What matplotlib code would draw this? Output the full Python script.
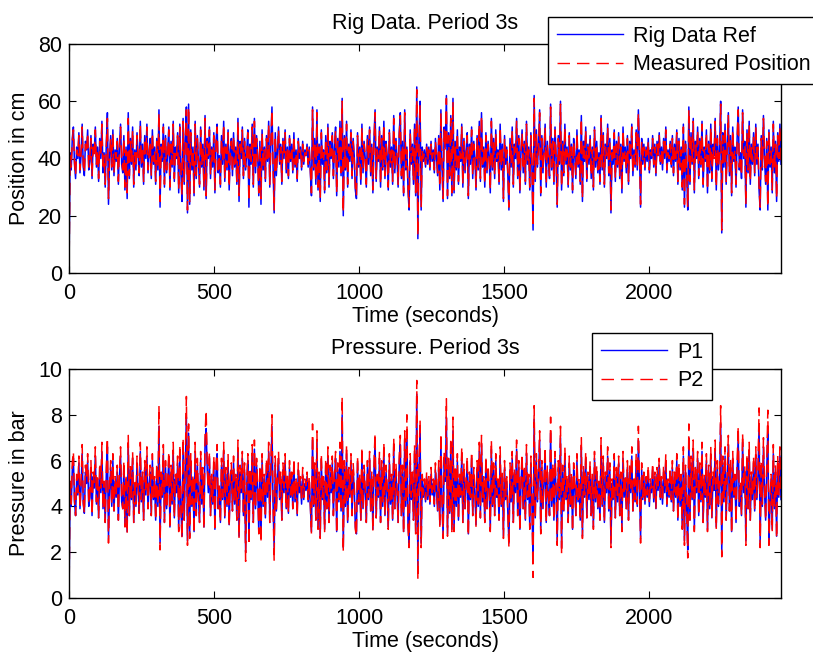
import numpy as np
import matplotlib
matplotlib.use("Agg")
import matplotlib.pyplot as plt

# values, one row ~94 s (25 samples)
t_end = 2454

rig_ref = [
    0, 42, 36, 47, 51, 38, 33, 44, 40, 49, 35, 41, 52, 37, 34, 46, 43, 50, 36, 39, 48, 33, 45, 42, 51,
    37, 44, 32, 47, 40, 53, 35, 42, 30, 45, 56, 24, 41, 48, 36, 50, 34, 43, 39, 47, 31, 45, 52, 38, 35,
    48, 29, 44, 26, 56, 33, 47, 38, 51, 30, 43, 36, 49, 41, 34, 53, 37, 45, 31, 48, 40, 52, 35, 42, 47,
    33, 50, 38, 44, 31, 47, 36, 57, 23, 45, 39, 52, 30, 48, 35, 43, 51, 29, 46, 37, 53, 32, 44, 40, 49,
    28, 52, 35, 25, 54, 31, 47, 58, 21, 59, 24, 50, 36, 44, 27, 53, 33, 48, 39, 30, 51, 37, 45, 29, 55,
    26, 47, 40, 51, 33, 44, 37, 49, 28, 46, 52, 35, 41, 30, 48, 38, 53, 32, 45, 36, 50, 29, 43, 47, 34,
    49, 37, 44, 31, 54, 25, 46, 40, 51, 33, 47, 36, 42, 50, 23, 45, 38, 52, 30, 54, 35, 48, 41, 27, 46,
    24, 50, 36, 44, 32, 48, 39, 53, 30, 46, 58, 37, 21, 49, 34, 43, 51, 38, 45, 31, 47, 40, 50, 35, 44,
    33, 48, 39, 45, 35, 49, 37, 43, 32, 47, 40, 44, 36, 46, 38, 43, 41, 45, 37, 44, 35, 27, 58, 36, 47,
    31, 57, 29, 45, 25, 50, 38, 43, 28, 48, 35, 52, 30, 46, 40, 49, 33, 44, 51, 27, 47, 37, 53, 34, 61,
    20, 48, 36, 53, 30, 45, 39, 50, 33, 47, 41, 29, 26, 49, 37, 44, 31, 52, 35, 46, 40, 30, 48, 38, 51,
    34, 45, 28, 47, 57, 32, 44, 39, 51, 30, 48, 36, 53, 33, 46, 41, 29, 50, 37, 44, 31, 55, 35, 47, 40,
    30, 49, 56, 33, 46, 27, 57, 36, 44, 29, 22, 50, 38, 45, 31, 52, 27, 65, 12, 47, 60, 22, 44, 39, 43,
    37, 45, 38, 44, 36, 46, 39, 43, 35, 47, 40, 34, 48, 29, 57, 37, 25, 51, 44, 62, 26, 49, 33, 55, 27,
    61, 28, 46, 36, 50, 31, 44, 39, 52, 30, 47, 35, 43, 49, 26, 45, 38, 51, 33, 46, 40, 29, 48, 36, 53,
    32, 56, 37, 44, 30, 49, 35, 46, 41, 28, 54, 36, 47, 33, 50, 39, 43, 31, 52, 36, 45, 25, 48, 38, 44,
    34, 22, 47, 37, 51, 30, 45, 40, 54, 33, 48, 28, 43, 50, 35, 46, 31, 53, 38, 44, 29, 49, 36, 15, 62,
    32, 50, 37, 45, 57, 27, 48, 35, 43, 52, 30, 46, 39, 33, 59, 36, 47, 31, 51, 40, 23, 48, 38, 60, 29,
    46, 34, 52, 38, 44, 30, 49, 36, 45, 28, 47, 41, 33, 50, 37, 43, 31, 55, 25, 46, 39, 51, 32, 45, 38,
    48, 33, 44, 29, 51, 37, 46, 35, 42, 31, 55, 36, 49, 30, 45, 40, 52, 34, 47, 21, 43, 38, 50, 32, 46,
    37, 49, 33, 45, 28, 51, 39, 44, 35, 48, 31, 46, 40, 52, 34, 43, 37, 50, 36, 57, 42, 23, 47, 38, 45,
    36, 44, 39, 47, 35, 43, 40, 48, 37, 45, 34, 46, 41, 49, 38, 44, 36, 47, 40, 51, 35, 43, 39, 46, 37,
    48, 34, 45, 39, 50, 31, 47, 36, 44, 29, 52, 23, 46, 35, 22, 58, 31, 49, 38, 54, 28, 46, 40, 51, 33,
    47, 37, 53, 30, 44, 39, 50, 28, 46, 35, 52, 32, 45, 41, 54, 29, 48, 36, 43, 60, 14, 49, 37, 52, 31,
    45, 56, 34, 48, 27, 51, 39, 44, 30, 47, 58, 36, 42, 33, 57, 40, 46, 23, 50, 35, 53, 31, 45, 38, 49,
    34, 52, 38, 45, 29, 22, 48, 36, 55, 40, 31, 47, 22, 50, 37, 44, 28, 53, 35, 46, 25, 49, 39, 52, 38,
]

measured = [
    0, 41, 37, 46, 50, 39, 34, 43, 41, 48, 36, 42, 51, 38, 35, 45, 42, 49, 37, 40, 47, 34, 44, 41, 50,
    38, 43, 33, 46, 41, 52, 36, 41, 31, 44, 54, 26, 40, 47, 37, 49, 35, 42, 40, 46, 32, 44, 51, 39, 36,
    47, 30, 43, 28, 54, 34, 46, 39, 50, 31, 42, 37, 48, 40, 35, 52, 38, 44, 32, 47, 41, 51, 36, 41, 46,
    34, 49, 39, 43, 32, 46, 37, 56, 25, 44, 40, 51, 31, 47, 36, 42, 50, 30, 45, 38, 52, 33, 43, 41, 48,
    29, 51, 36, 27, 53, 32, 46, 57, 22, 58, 25, 49, 37, 43, 28, 52, 34, 47, 40, 31, 50, 38, 44, 30, 54,
    27, 46, 41, 50, 34, 43, 38, 48, 29, 45, 51, 36, 40, 31, 47, 39, 52, 33, 44, 37, 49, 30, 42, 46, 35,
    48, 38, 43, 32, 53, 27, 45, 41, 50, 34, 46, 37, 41, 49, 25, 44, 39, 51, 31, 53, 36, 47, 40, 28, 45,
    26, 49, 37, 43, 33, 47, 40, 52, 31, 45, 57, 38, 22, 48, 35, 42, 50, 39, 44, 32, 46, 41, 49, 36, 43,
    34, 47, 40, 44, 36, 48, 38, 42, 33, 46, 41, 43, 37, 45, 39, 42, 40, 44, 38, 43, 36, 28, 57, 37, 46,
    32, 56, 30, 44, 26, 49, 39, 42, 29, 47, 36, 51, 31, 45, 41, 48, 34, 43, 50, 28, 46, 38, 52, 35, 60,
    21, 47, 37, 52, 31, 44, 40, 49, 34, 46, 40, 30, 27, 48, 38, 43, 32, 51, 36, 45, 41, 31, 47, 39, 50,
    35, 44, 29, 46, 56, 33, 43, 40, 50, 31, 47, 37, 52, 34, 45, 40, 30, 49, 38, 43, 32, 54, 36, 46, 41,
    31, 48, 55, 34, 45, 28, 56, 37, 43, 30, 23, 49, 39, 44, 32, 51, 28, 64, 13, 46, 59, 23, 43, 40, 42,
    38, 44, 39, 43, 37, 45, 40, 42, 36, 46, 41, 35, 47, 30, 56, 38, 26, 50, 43, 61, 27, 48, 34, 54, 28,
    60, 29, 45, 37, 49, 32, 43, 40, 51, 31, 46, 36, 42, 48, 27, 44, 39, 50, 34, 45, 41, 30, 47, 37, 52,
    33, 55, 38, 43, 31, 48, 36, 45, 40, 29, 53, 37, 46, 34, 49, 40, 42, 32, 51, 37, 44, 26, 47, 39, 43,
    35, 23, 46, 38, 50, 31, 44, 41, 53, 34, 47, 29, 42, 49, 36, 45, 32, 52, 39, 43, 30, 48, 37, 16, 61,
    33, 49, 38, 44, 56, 28, 47, 36, 42, 51, 31, 45, 40, 34, 58, 37, 46, 32, 50, 41, 24, 47, 39, 59, 30,
    45, 35, 51, 39, 43, 31, 48, 37, 44, 29, 46, 40, 34, 49, 38, 42, 32, 54, 26, 45, 40, 50, 33, 44, 39,
    47, 34, 43, 30, 50, 38, 45, 36, 41, 32, 54, 37, 48, 31, 44, 41, 51, 35, 46, 22, 42, 39, 49, 33, 45,
    38, 48, 34, 44, 29, 50, 40, 43, 36, 47, 32, 45, 41, 51, 35, 42, 38, 49, 37, 56, 41, 24, 46, 39, 44,
    37, 43, 40, 46, 36, 42, 41, 47, 38, 44, 35, 45, 40, 48, 39, 43, 37, 46, 41, 50, 36, 42, 40, 45, 38,
    47, 35, 44, 40, 49, 32, 46, 37, 43, 30, 51, 24, 45, 36, 23, 57, 32, 48, 39, 53, 29, 45, 41, 50, 34,
    46, 38, 52, 31, 43, 40, 49, 29, 45, 36, 51, 33, 44, 40, 53, 30, 47, 37, 42, 59, 15, 48, 38, 51, 32,
    44, 55, 35, 47, 28, 50, 40, 43, 31, 46, 57, 37, 41, 34, 56, 41, 45, 24, 49, 36, 52, 32, 44, 39, 48,
    35, 51, 39, 44, 30, 23, 47, 37, 54, 41, 32, 46, 23, 49, 38, 43, 29, 52, 36, 45, 26, 48, 40, 51, 39,
]

p1 = [
    0.0, 4.9, 4.0, 5.6, 6.1, 4.2, 3.6, 5.2, 4.5, 5.9, 3.9, 4.8, 6.3, 4.1, 3.7, 5.5, 5.0, 6.0, 4.0, 4.4, 5.7, 3.6, 5.3, 4.8, 6.2,
    4.1, 5.2, 3.5, 5.6, 4.6, 6.4, 3.9, 4.9, 3.3, 5.4, 6.6, 2.6, 4.7, 5.7, 4.0, 6.0, 3.8, 5.1, 4.4, 5.5, 3.4, 5.3, 6.2, 4.2, 3.9,
    5.7, 3.2, 5.2, 2.9, 6.7, 3.6, 5.6, 4.3, 6.1, 3.3, 5.0, 4.0, 5.9, 4.7, 3.7, 6.4, 4.2, 5.3, 3.4, 5.7, 4.5, 6.2, 3.9, 4.9, 5.5,
    3.6, 6.0, 4.3, 5.1, 3.4, 5.6, 4.0, 7.5, 2.4, 5.3, 4.4, 6.3, 3.3, 5.7, 3.9, 5.0, 6.1, 3.1, 5.5, 4.1, 6.4, 3.5, 5.2, 4.6, 5.9,
    3.0, 6.3, 3.9, 2.7, 6.6, 3.4, 5.6, 7.9, 2.5, 7.2, 2.7, 6.0, 4.0, 5.2, 2.9, 6.4, 3.6, 5.8, 4.4, 3.3, 6.1, 4.1, 5.4, 3.1, 6.7,
    7.4, 5.6, 4.6, 6.1, 3.6, 5.2, 4.1, 5.9, 3.0, 5.5, 6.3, 3.9, 4.8, 3.3, 5.8, 4.3, 6.4, 3.5, 5.4, 4.0, 6.0, 3.2, 5.1, 5.6, 3.8,
    5.9, 4.1, 5.2, 3.4, 6.5, 2.7, 5.5, 4.6, 6.1, 3.6, 5.6, 2.0, 4.9, 6.0, 2.5, 5.4, 4.3, 6.3, 3.3, 6.5, 3.9, 5.8, 4.7, 2.9, 5.5,
    2.6, 6.0, 4.0, 5.2, 3.5, 5.8, 4.4, 6.4, 3.3, 5.5, 7.5, 4.1, 2.2, 5.9, 3.8, 5.1, 6.1, 4.3, 5.3, 3.4, 5.6, 4.6, 6.0, 3.9, 5.2,
    3.7, 5.7, 4.4, 5.3, 3.9, 5.8, 4.2, 5.0, 3.6, 5.6, 4.6, 5.1, 4.1, 5.4, 4.3, 5.0, 4.7, 5.3, 4.2, 5.1, 4.0, 2.9, 6.9, 4.0, 5.6,
    3.4, 6.8, 3.1, 5.3, 2.7, 6.0, 4.3, 5.1, 3.0, 5.8, 3.9, 6.2, 3.3, 5.5, 4.6, 5.9, 3.6, 5.2, 6.1, 2.9, 5.6, 4.2, 6.4, 3.8, 8.0,
    2.2, 5.7, 4.0, 6.3, 3.3, 5.4, 4.4, 6.0, 3.6, 5.6, 4.8, 3.1, 2.8, 5.9, 4.1, 5.2, 3.4, 6.2, 3.9, 5.5, 4.6, 3.3, 5.7, 4.3, 6.1,
    3.8, 5.3, 3.0, 5.6, 6.8, 3.5, 5.2, 4.4, 6.1, 3.3, 5.7, 4.0, 6.4, 3.6, 5.5, 4.7, 3.1, 6.0, 4.1, 5.2, 3.4, 6.6, 3.9, 5.6, 4.6,
    3.3, 5.9, 6.7, 3.6, 5.5, 2.9, 6.9, 4.0, 7.3, 3.2, 2.4, 6.0, 4.3, 5.3, 3.4, 6.3, 2.9, 8.9, 1.4, 5.6, 7.2, 2.4, 5.2, 4.4, 5.0,
    4.2, 5.3, 4.3, 5.1, 4.1, 5.4, 4.5, 5.0, 4.0, 5.6, 4.6, 3.8, 5.7, 3.2, 6.8, 4.2, 2.7, 6.1, 5.1, 7.9, 2.8, 5.8, 3.7, 6.6, 3.0,
    7.3, 3.0, 5.5, 4.0, 6.0, 3.4, 5.2, 4.4, 6.2, 3.3, 5.6, 3.9, 5.0, 5.9, 2.8, 5.3, 4.3, 6.1, 3.6, 5.4, 4.6, 3.2, 5.7, 4.0, 6.4,
    3.5, 6.7, 4.2, 5.1, 3.3, 5.9, 3.9, 5.5, 4.7, 3.0, 6.5, 4.0, 5.6, 3.6, 6.0, 4.4, 5.0, 3.4, 6.2, 4.0, 5.3, 2.7, 5.7, 4.3, 5.1,
    3.8, 2.4, 5.6, 4.2, 6.1, 3.3, 5.4, 4.6, 6.5, 3.6, 5.7, 3.0, 5.0, 6.0, 3.9, 5.5, 3.4, 6.3, 4.3, 5.2, 3.1, 5.9, 4.0, 1.6, 7.8,
    3.5, 6.0, 4.2, 5.3, 6.9, 2.9, 5.7, 3.9, 5.0, 6.2, 3.3, 5.5, 4.4, 3.6, 7.2, 4.0, 5.6, 3.4, 6.1, 4.6, 2.5, 5.7, 4.3, 7.0, 2.2,
    5.5, 3.8, 6.2, 4.3, 5.2, 3.3, 5.9, 4.0, 5.3, 3.0, 5.6, 4.8, 3.6, 6.0, 4.2, 5.0, 3.4, 6.6, 2.7, 5.5, 4.4, 6.1, 3.5, 5.3, 4.3,
    5.7, 3.6, 5.2, 3.1, 6.1, 4.2, 5.5, 3.9, 4.9, 3.4, 6.6, 4.0, 5.9, 3.3, 5.3, 4.6, 6.2, 3.8, 5.6, 2.4, 5.0, 4.3, 6.0, 3.5, 5.4,
    4.2, 5.9, 3.6, 5.3, 3.0, 6.1, 4.4, 5.2, 3.9, 5.7, 3.4, 5.5, 4.6, 6.2, 3.8, 5.0, 4.2, 6.0, 4.0, 6.9, 4.9, 2.6, 5.6, 4.3, 5.3,
    4.1, 5.1, 4.4, 5.5, 4.0, 5.0, 4.6, 5.6, 4.2, 5.3, 3.9, 5.4, 4.7, 5.8, 4.3, 5.1, 4.1, 5.5, 4.6, 6.0, 4.0, 5.0, 4.4, 5.4, 4.2,
    5.7, 3.8, 5.3, 4.4, 6.0, 3.4, 5.6, 4.0, 5.2, 3.1, 6.2, 2.5, 5.5, 3.9, 2.1, 7.0, 3.4, 5.9, 4.3, 6.5, 3.0, 5.4, 4.6, 6.1, 3.6,
    5.6, 4.2, 6.4, 3.3, 5.2, 4.4, 6.0, 3.0, 5.5, 3.9, 6.2, 3.5, 5.3, 4.7, 6.5, 3.1, 5.7, 4.0, 5.0, 7.6, 2.0, 5.9, 4.2, 6.2, 3.4,
    5.3, 6.7, 3.8, 5.7, 2.9, 6.1, 4.4, 5.2, 3.3, 5.6, 7.0, 4.0, 4.9, 3.6, 6.8, 4.6, 5.5, 2.5, 6.0, 3.9, 6.4, 3.4, 5.3, 4.3, 5.9,
    3.8, 6.2, 4.3, 5.3, 7.5, 2.4, 5.7, 4.0, 6.6, 4.6, 3.4, 5.6, 7.3, 2.5, 4.2, 5.2, 3.0, 6.3, 3.9, 5.5, 2.7, 5.9, 4.4, 6.2, 4.3,
]

p2 = [
    0.0, 5.1, 4.1, 5.9, 6.4, 4.3, 3.6, 5.4, 4.6, 6.2, 3.9, 5.0, 6.7, 4.2, 3.7, 5.8, 5.2, 6.3, 4.1, 4.5, 6.0, 3.6, 5.5, 5.0, 6.6,
    4.2, 5.4, 3.5, 5.9, 4.8, 6.8, 3.9, 5.1, 3.3, 5.7, 7.0, 2.4, 4.9, 6.0, 4.1, 6.3, 3.8, 5.3, 4.5, 5.8, 3.4, 5.5, 6.6, 4.3, 3.9,
    6.0, 3.1, 5.4, 2.8, 7.1, 3.6, 5.9, 4.4, 6.4, 3.3, 5.2, 4.1, 6.2, 4.9, 3.7, 6.8, 4.3, 5.5, 3.4, 6.0, 4.6, 6.6, 3.9, 5.1, 5.8,
    3.6, 6.3, 4.4, 5.3, 3.4, 5.9, 4.1, 8.4, 2.1, 5.5, 4.5, 6.7, 3.3, 6.0, 3.9, 5.2, 6.4, 3.0, 5.8, 4.2, 6.8, 3.5, 5.4, 4.8, 6.2,
    2.9, 6.7, 3.9, 2.6, 7.0, 3.4, 5.9, 8.8, 2.3, 7.6, 2.6, 6.3, 4.1, 5.4, 2.8, 6.8, 3.6, 6.1, 4.5, 3.3, 6.4, 4.2, 5.7, 3.0, 7.1,
    8.2, 5.9, 4.8, 6.4, 3.6, 5.4, 4.2, 6.2, 2.9, 5.8, 6.7, 3.9, 5.0, 3.3, 6.1, 4.4, 6.8, 3.5, 5.7, 4.1, 6.3, 3.1, 5.3, 5.9, 3.8,
    6.2, 4.2, 5.4, 3.4, 6.9, 2.6, 5.8, 4.8, 6.4, 3.6, 5.9, 1.6, 5.1, 6.3, 2.3, 5.7, 4.4, 6.7, 3.3, 6.9, 3.9, 6.1, 4.9, 2.8, 5.8,
    2.4, 6.3, 4.1, 5.4, 3.5, 6.1, 4.5, 6.8, 3.3, 5.8, 8.0, 4.2, 1.6, 6.2, 3.8, 5.3, 6.4, 4.4, 5.5, 3.4, 5.9, 4.8, 6.3, 3.9, 5.4,
    3.7, 6.0, 4.5, 5.5, 3.9, 6.1, 4.3, 5.2, 3.6, 5.9, 4.8, 5.3, 4.2, 5.7, 4.4, 5.2, 4.9, 5.5, 4.3, 5.3, 4.1, 2.8, 7.6, 4.1, 5.9,
    3.4, 7.3, 3.0, 5.5, 2.6, 6.3, 4.4, 5.3, 2.9, 6.1, 3.9, 6.6, 3.3, 5.8, 4.8, 6.2, 3.6, 5.4, 6.4, 2.8, 5.9, 4.3, 6.8, 3.8, 8.8,
    2.0, 6.0, 4.1, 6.7, 3.3, 5.7, 4.5, 6.3, 3.6, 5.9, 5.0, 3.0, 2.7, 6.2, 4.2, 5.4, 3.4, 6.6, 3.9, 5.8, 4.8, 3.3, 6.0, 4.4, 6.4,
    3.8, 5.5, 2.9, 5.9, 7.2, 3.5, 5.4, 4.5, 6.4, 3.3, 6.0, 4.1, 6.8, 3.6, 5.8, 4.9, 3.0, 6.3, 4.2, 5.4, 3.4, 7.0, 3.9, 5.9, 4.8,
    3.3, 6.2, 7.1, 3.6, 5.8, 2.8, 7.3, 4.1, 8.0, 3.1, 2.2, 6.3, 4.4, 5.5, 3.4, 6.7, 2.8, 9.5, 0.8, 5.9, 7.8, 2.2, 5.4, 4.5, 5.2,
    4.3, 5.5, 4.4, 5.3, 4.2, 5.7, 4.6, 5.2, 4.1, 5.9, 4.8, 3.8, 6.0, 3.1, 7.2, 4.3, 2.6, 6.4, 5.3, 8.7, 2.7, 6.1, 3.7, 7.0, 2.9,
    7.9, 2.9, 5.8, 4.1, 6.3, 3.4, 5.4, 4.5, 6.6, 3.3, 5.9, 3.9, 5.2, 6.2, 2.7, 5.5, 4.4, 6.4, 3.6, 5.7, 4.8, 3.1, 6.0, 4.1, 6.8,
    3.5, 7.1, 4.3, 5.3, 3.3, 6.2, 3.9, 5.8, 4.9, 2.9, 6.9, 4.1, 5.9, 3.6, 6.3, 4.5, 5.2, 3.4, 6.6, 4.1, 5.5, 2.6, 6.0, 4.4, 5.3,
    3.8, 2.2, 5.9, 4.3, 6.4, 3.3, 5.7, 4.8, 6.9, 3.6, 6.0, 2.9, 5.2, 6.3, 3.9, 5.8, 3.4, 6.7, 4.4, 5.4, 3.0, 6.2, 4.1, 0.9, 8.4,
    3.5, 6.3, 4.3, 5.5, 7.3, 2.8, 6.0, 3.9, 5.2, 6.6, 3.3, 5.8, 4.5, 3.6, 7.9, 4.1, 5.9, 3.4, 6.4, 4.8, 2.3, 6.0, 4.4, 7.5, 1.9,
    5.8, 3.8, 6.6, 4.4, 5.4, 3.3, 6.2, 4.1, 5.5, 2.9, 5.9, 5.0, 3.6, 6.3, 4.3, 5.2, 3.4, 7.0, 2.6, 5.8, 4.5, 6.4, 3.5, 5.5, 4.4,
    6.0, 3.6, 5.4, 3.0, 6.4, 4.3, 5.8, 3.9, 5.1, 3.4, 7.0, 4.1, 6.2, 3.3, 5.5, 4.8, 6.6, 3.8, 5.9, 2.2, 5.2, 4.4, 6.3, 3.5, 5.7,
    4.3, 6.2, 3.6, 5.5, 2.9, 6.4, 4.5, 5.4, 3.9, 6.0, 3.4, 5.8, 4.8, 6.6, 3.8, 5.2, 4.3, 6.3, 4.1, 7.5, 5.1, 2.4, 5.9, 4.4, 5.5,
    4.2, 5.3, 4.5, 5.8, 4.1, 5.2, 4.8, 5.9, 4.3, 5.5, 3.9, 5.7, 4.9, 6.1, 4.4, 5.3, 4.2, 5.8, 4.8, 6.3, 4.1, 5.2, 4.5, 5.7, 4.3,
    6.0, 3.8, 5.5, 4.5, 6.3, 3.4, 5.9, 4.1, 5.4, 3.0, 6.6, 2.3, 5.8, 3.9, 1.75, 7.6, 3.4, 6.2, 4.4, 6.9, 2.9, 5.7, 4.8, 6.4, 3.6,
    5.9, 4.3, 6.8, 3.3, 5.4, 4.5, 6.3, 2.9, 5.8, 3.9, 6.6, 3.5, 5.5, 4.9, 6.9, 3.0, 6.0, 4.1, 5.2, 8.4, 1.8, 6.2, 4.3, 6.6, 3.4,
    5.5, 7.1, 3.8, 6.0, 2.8, 6.4, 4.5, 5.4, 3.3, 5.9, 7.5, 4.1, 5.1, 3.6, 7.2, 4.8, 5.8, 2.3, 6.3, 3.9, 6.8, 3.4, 5.5, 4.4, 6.2,
    3.8, 6.6, 4.4, 5.5, 8.3, 2.2, 6.0, 4.1, 7.0, 4.8, 3.4, 5.9, 8.2, 2.3, 4.3, 5.4, 2.9, 6.7, 3.9, 5.8, 2.6, 6.2, 4.5, 6.6, 4.4,
]

plt.rcParams['font.family'] = ['Liberation Sans', 'DejaVu Sans']
plt.rcParams['font.size'] = 15.5
plt.rcParams['lines.scale_dashes'] = False

W, H = 813, 655
fig = plt.figure(figsize=(W / 100, H / 100), dpi=100)


def setup(ax, ymax, ystep, ylabel, title):
    ax.set_xlim(0, t_end)
    ax.set_ylim(0, ymax)
    ax.set_xticks([0, 500, 1000, 1500, 2000])
    ax.set_yticks(np.arange(0, ymax + 1, ystep))
    ax.tick_params(direction='in', length=5, width=0.8, top=True, right=True)
    ax.tick_params(axis='x', pad=7)
    ax.tick_params(axis='y', pad=5)
    for s in ax.spines.values():
        s.set_linewidth(1.0)
    ax.set_xlabel('Time (seconds)', labelpad=1.5)
    ax.set_ylabel(ylabel, labelpad=6)
    ax.set_title(title, pad=11, fontsize=15.5)


def leg(ax, x0, y0):
    lg = ax.legend(loc='upper left', bbox_to_anchor=(x0 / W, 1 - y0 / H),
                   bbox_transform=fig.transFigure, borderaxespad=0,
                   fancybox=False, framealpha=1, edgecolor='black',
                   handlelength=3.1, handletextpad=0.45, borderpad=0.4,
                   labelspacing=0.35, fontsize=15.5)
    lg.get_frame().set_linewidth(1.0)
    for h in lg.get_lines():
        h.set_linewidth(1.0)


# top: position
ax1 = fig.add_axes([69 / W, 1 - 273 / H, 712 / W, 229 / H])
t = np.linspace(0, t_end, len(rig_ref))
ax1.plot(t, rig_ref, color='b', lw=1.1, label='Rig Data Ref')
t = np.linspace(0, t_end, len(measured))
ax1.plot(t, measured, color='r', lw=1.1, dashes=(9, 5), label='Measured Position')
setup(ax1, 80, 20, 'Position in cm', 'Rig Data. Period 3s')
leg(ax1, 548, 17)

# bottom: pressure
ax2 = fig.add_axes([69 / W, 1 - 598 / H, 712 / W, 229 / H])
t = np.linspace(0, t_end, len(p1))
ax2.plot(t, p1, color='b', lw=1.1, label='P1')
t = np.linspace(0, t_end, len(p2))
ax2.plot(t, p2, color='r', lw=1.1, dashes=(9, 5), label='P2')
setup(ax2, 10, 2, 'Pressure in bar', 'Pressure. Period 3s')
leg(ax2, 592, 333)

fig.savefig('out.png', dpi=100)
